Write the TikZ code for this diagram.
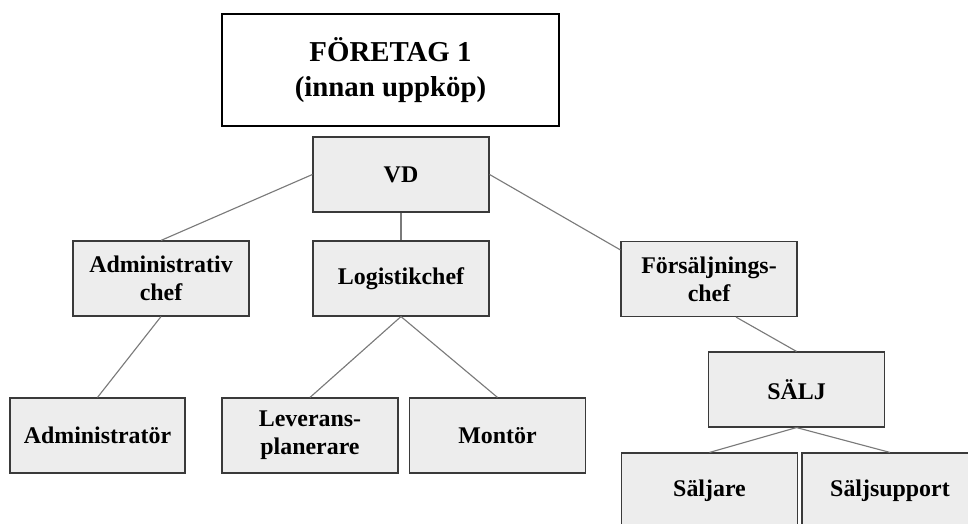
\documentclass[tikz,border=0pt]{standalone}
\usepackage{fontspec}
\setmainfont{Liberation Serif}
\usetikzlibrary{calc}
\definecolor{boxfill}{HTML}{EDEDED}
\definecolor{boxline}{HTML}{3A3A3A}
\definecolor{connline}{HTML}{7A7A7A}
\tikzset{
	unit/.style={draw=boxline, fill=boxfill, line width=0.8pt, minimum width=4.4cm,
		minimum height=1.875cm, align=center, inner sep=0pt,
		font=\fontsize{17}{20}\selectfont\bfseries},
	titlebox/.style={draw=black, line width=1.8pt, minimum width=8.425cm,
		minimum height=2.8cm, align=center,
		font=\fontsize{20.5}{25}\selectfont\bfseries},
	conn/.style={draw=connline, line width=0.8pt}
}

\begin{document}
\begin{tikzpicture}[x=0.025cm, y=-0.025cm]

	\clip (0,0) rectangle (968,524);
	\useasboundingbox (0,0) rectangle (968,524);

	% rubrik
	\node[titlebox] (title) at (390.5,70) {FÖRETAG 1\\(innan uppköp)};

	% ledning
	\node[unit] (vd) at (401,174.5) {VD};

	% chefer
	\node[unit] (admchef) at (161,278.5) {Administrativ\\chef};
	\node[unit] (logchef) at (401,278.5) {Logistikchef};
	\node[unit] (forschef) at (709,279) {Försäljnings-\\chef};

	% medarbetare
	\node[unit, minimum width=4.375cm] (admr) at (97.5,435.5) {Administratör};
	\node[unit] (lev) at (310,435.5) {Leverans-\\planerare};
	\node[unit] (mont) at (497.5,435.5) {Montör};
	\node[unit] (salj) at (796.5,389.5) {SÄLJ};
	\node[unit] (saljare) at (709.5,490.5) {Säljare};
	\node[unit] (support) at (890,490.5) {Säljsupport};

	% linjer
	\draw[conn] (vd.west) -- (admchef.north);
	\draw[conn] (vd.south) -- (logchef.north);
	\draw[conn] (vd.east) -- ($(forschef.north west)+(0,9)$);
	\draw[conn] (admchef.south) -- (admr.north);
	\draw[conn] (logchef.south) -- (lev.north);
	\draw[conn] (logchef.south) -- (mont.north);
	\draw[conn] ($(forschef.south)+(27,0)$) -- (salj.north);
	\draw[conn] (salj.south) -- (saljare.north);
	\draw[conn] (salj.south) -- (support.north);

\end{tikzpicture}
\end{document}
